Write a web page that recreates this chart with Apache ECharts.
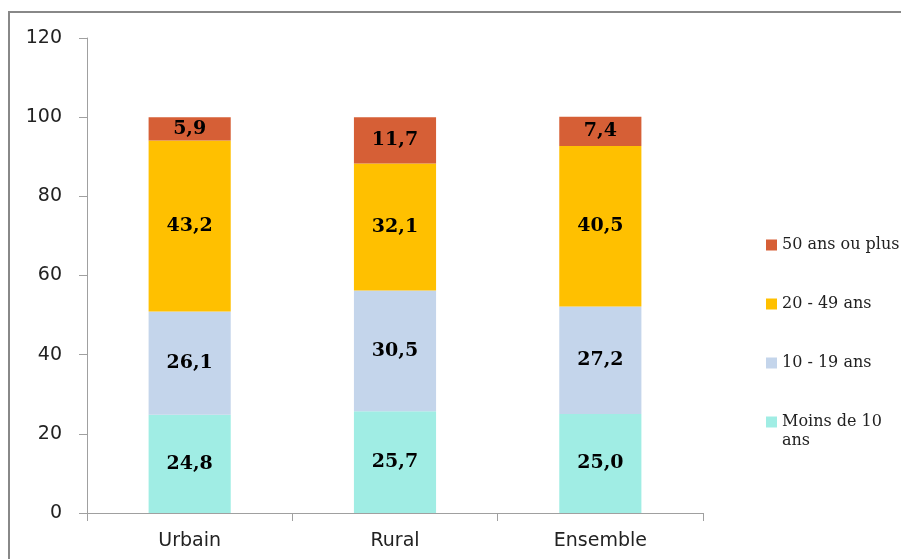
<!DOCTYPE html>
<html><head><meta charset="utf-8">
<script src="https://cdn.jsdelivr.net/npm/echarts@6/dist/echarts.min.js"></script>
<style>html,body{margin:0;padding:0;background:#fff}#c{width:901px;height:559px}</style>
</head><body><div id="c"></div>
<script>
const categories = ['Urbain', 'Rural', 'Ensemble'];
const moins10 = [24.8, 25.7, 25.0];
const de10a19 = [26.1, 30.5, 27.2];
const de20a49 = [43.2, 32.1, 40.5];
const plus50 = [5.9, 11.7, 7.4];
const seriesNames = ['Moins de 10 ans', '10 - 19 ans', '20 - 49 ans', '50 ans ou plus'];
const yTicks = [0, 20, 40, 60, 80, 100, 120];

const colors = ['#A0EDE4', '#C4D5EB', '#FFC000', '#D65F36'];
const dataSets = [moins10, de10a19, de20a49, plus50];

const chart = echarts.init(document.getElementById('c'));
const labelStyle = {
  show: true, position: 'inside', color: '#000',
  fontFamily: 'DejaVu Serif', fontWeight: 'bold', fontSize: 19,
  formatter: p => p.value.toFixed(1).replace('.', ',')
};
chart.setOption({
  animation: false,
  graphic: [
    { type: 'rect', shape: { x: 9, y: 12, width: 1000, height: 1000 }, style: { fill: 'none', stroke: '#888', lineWidth: 2 } },
    { type: 'text', left: 782, top: 433, style: { text: 'ans', font: '16px "DejaVu Serif"', fill: '#222' } }
  ],
  grid: { left: 87, right: 198, top: 38, bottom: 46 },
  legend: {
    orient: 'vertical', left: 766, top: 235, padding: 0,
    itemWidth: 11, itemHeight: 11, itemGap: 39,
    icon: 'rect',
    data: seriesNames.slice().reverse(),
    formatter: n => n === 'Moins de 10 ans' ? 'Moins de 10' : n,
    textStyle: { fontFamily: 'DejaVu Serif', fontSize: 16, color: '#222', lineHeight: 20 }
  },
  xAxis: {
    type: 'category', data: categories,
    axisLine: { lineStyle: { color: '#a0a0a0', width: 1 } },
    axisTick: { show: true, length: 8, lineStyle: { color: '#a0a0a0' } },
    axisLabel: { fontFamily: 'DejaVu Sans', fontSize: 19, color: '#222', margin: 19 }
  },
  yAxis: {
    type: 'value', min: 0, max: 120, interval: 20,
    axisLine: { show: true, lineStyle: { color: '#a0a0a0', width: 1 } },
    axisTick: { show: true, length: 8, lineStyle: { color: '#a0a0a0' } },
    splitLine: { show: false },
    axisLabel: { fontFamily: 'DejaVu Sans', fontSize: 19, color: '#222', margin: 25,
      formatter: v => yTicks.includes(v) ? String(v) : '' }
  },
  series: seriesNames.map((name, i) => ({
    name, type: 'bar', stack: 'total', barWidth: '40%',
    data: dataSets[i],
    itemStyle: { color: colors[i] },
    label: labelStyle
  }))
});
</script></body></html>
